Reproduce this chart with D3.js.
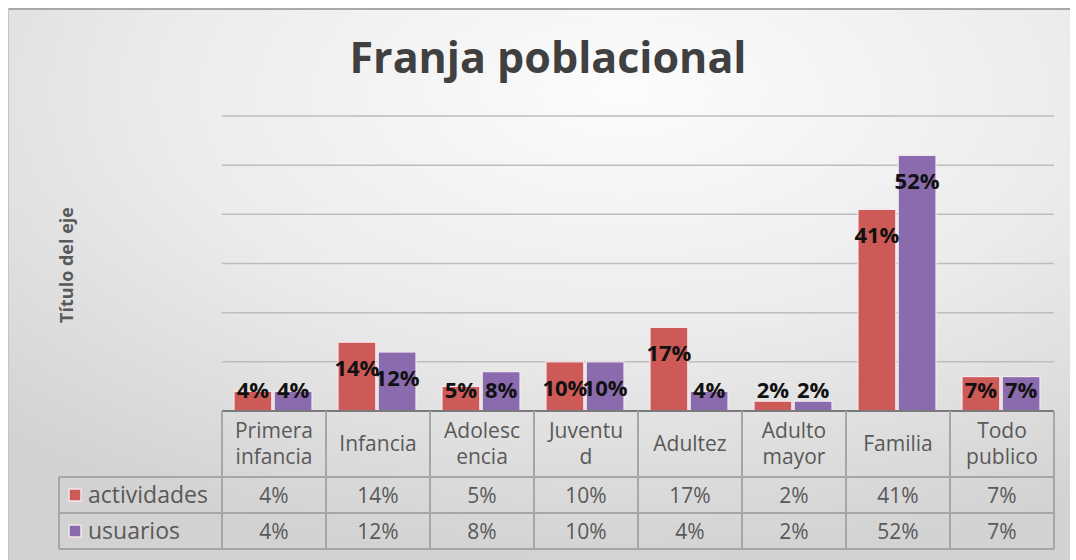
<!DOCTYPE html>
<html lang="es">
<head>
    <meta charset="UTF-8">
    <title>Franja poblacional</title>
    <style>
        body { margin: 0; background: #fff; }
        text { font-family: "Open Sans", "Noto Sans", sans-serif; }
    </style>
</head>
<body>

    <svg id="svg" width="1076" height="560"></svg>

    <script src="https://d3js.org/d3.v7.min.js"></script>
    <script>
        // data
        const categories = ['Primera infancia', 'Infancia', 'Adolescencia', 'Juventud', 'Adultez', 'Adulto mayor', 'Familia', 'Todo publico']
        const headerLines = [['Primera', 'infancia'], ['Infancia'], ['Adolesc', 'encia'], ['Juventu', 'd'], ['Adultez'], ['Adulto', 'mayor'], ['Familia'], ['Todo', 'publico']]
        const seriesNames = ['actividades', 'usuarios']
        const actividades = [4, 14, 5, 10, 17, 2, 41, 7]
        const usuarios = [4, 12, 8, 10, 4, 2, 52, 7]
        const yTicks = [10, 20, 30, 40, 50, 60]
        const colors = ['#CD5A57', '#8A6BAE']

        const values = [actividades, usuarios]
        const rows = categories.map((c, i) => ({ cat: c, vals: seriesNames.map((s, j) => ({ s, v: values[j][i] })) }))

        const svg = d3.select('#svg')

        // background panel
        const defs = svg.append('defs')
        const grad = defs.append('radialGradient')
            .attr('id', 'bg')
            .attr('cx', 0.58).attr('cy', 0.15).attr('r', 0.85)
        grad.append('stop').attr('offset', 0).attr('stop-color', '#fcfcfc')
        grad.append('stop').attr('offset', 0.5).attr('stop-color', '#ececec')
        grad.append('stop').attr('offset', 1).attr('stop-color', '#d2d2d2')

        svg.append('rect')
            .attr('x', 8).attr('y', 8)
            .attr('width', 1062).attr('height', 560)
            .attr('fill', 'url(#bg)')
        svg.append('line')
            .attr('x1', 8).attr('x2', 1070).attr('y1', 9).attr('y2', 9)
            .attr('stroke', '#a9a9a9').attr('stroke-width', 2)
        svg.append('line')
            .attr('x1', 8.5).attr('x2', 8.5).attr('y1', 8).attr('y2', 560)
            .attr('stroke', '#c4c4c4').attr('stroke-width', 1)

        // scales
        const left = 222, right = 1054, base = 411
        const x0 = d3.scaleBand()
            .domain(categories)
            .range([left, right])
        const x1 = d3.scaleBand()
            .domain(seriesNames)
            .range([12, 90])
            .paddingInner(0.06)
        const yScale = d3.scaleLinear()
            .domain([0, 60])
            .range([base, 116])
        const color = d3.scaleOrdinal()
            .domain(seriesNames)
            .range(colors)

        // title
        svg.append('text')
            .attr('x', 548).attr('y', 73)
            .attr('text-anchor', 'middle')
            .attr('font-size', 43)
            .attr('font-weight', 'bold')
            .attr('fill', '#404040')
            .text('Franja poblacional')

        // axis title
        svg.append('text')
            .attr('transform', 'translate(73,265) rotate(-90)')
            .attr('text-anchor', 'middle')
            .attr('font-size', 18)
            .attr('font-weight', 'bold')
            .attr('fill', '#595959')
            .text('Título del eje')

        // gridlines
        svg.append('g')
            .selectAll('line')
            .data(yTicks)
            .enter()
            .append('line')
            .attr('x1', left).attr('x2', right)
            .attr('y1', d => yScale(d)).attr('y2', d => yScale(d))
            .attr('stroke', '#bdbdbd')
            .attr('stroke-width', 1.5)

        // bars
        const groups = svg.append('g')
            .selectAll('g')
            .data(rows)
            .enter()
            .append('g')
            .attr('transform', d => `translate(${x0(d.cat)},0)`)

        groups.selectAll('rect')
            .data(d => d.vals)
            .enter()
            .append('rect')
            .attr('x', d => x1(d.s))
            .attr('y', d => yScale(d.v))
            .attr('width', x1.bandwidth())
            .attr('height', d => base - yScale(d.v))
            .attr('fill', d => color(d.s))
            .attr('stroke', '#f6e8ee')
            .attr('stroke-width', 1.2)

        groups.selectAll('text')
            .data(d => d.vals)
            .enter()
            .append('text')
            .attr('x', d => x1(d.s) + x1.bandwidth() / 2)
            .attr('y', d => Math.min(yScale(d.v) + 26, 390) + 8)
            .attr('text-anchor', 'middle')
            .attr('font-size', 22)
            .attr('font-weight', 'bold')
            .attr('fill', '#111')
            .text(d => d.v + '%')

        // data table
        const rowTop = [base, 477, 513, 549]
        const table = svg.append('g')
            .attr('stroke', '#a6a6a6')
            .attr('stroke-width', 2)
        table.append('line')
            .attr('x1', left).attr('x2', right).attr('y1', base).attr('y2', base)
            .attr('stroke', '#7a7a7a')
        rowTop.slice(1).forEach(y => {
            table.append('line')
                .attr('x1', 59).attr('x2', right).attr('y1', y).attr('y2', y)
        })
        categories.concat(['end']).forEach((c, i) => {
            const x = i < categories.length ? x0(c) : right
            table.append('line')
                .attr('x1', x).attr('x2', x).attr('y1', base).attr('y2', 549)
        })
        table.append('line')
            .attr('x1', 59).attr('x2', 59).attr('y1', 477).attr('y2', 549)

        // header labels
        const header = svg.append('g')
            .selectAll('text')
            .data(categories)
            .enter()
            .append('text')
            .attr('text-anchor', 'middle')
            .attr('font-size', 21)
            .attr('fill', '#595959')
        header.each(function(c, i) {
            const lines = headerLines[i]
            const cx = x0(c) + x0.bandwidth() / 2
            const cy = (base + 477) / 2
            lines.forEach((l, k) => {
                d3.select(this).append('tspan')
                    .attr('x', cx)
                    .attr('y', cy + (k - (lines.length - 1) / 2) * 26 + 7)
                    .text(l)
            })
        })

        // table values and legend
        seriesNames.forEach((s, j) => {
            const cy = (rowTop[j + 1] + rowTop[j + 2]) / 2
            svg.append('g')
                .selectAll('text')
                .data(rows)
                .enter()
                .append('text')
                .attr('x', d => x0(d.cat) + x0.bandwidth() / 2)
                .attr('y', cy + 8)
                .attr('text-anchor', 'middle')
                .attr('font-size', 21)
                .attr('fill', '#595959')
                .text(d => d.vals[j].v + '%')

            svg.append('rect')
                .attr('x', 69).attr('y', cy - 6)
                .attr('width', 12).attr('height', 12)
                .attr('fill', color(s))
                .attr('stroke', '#f3e6ee')
                .attr('stroke-width', 1.5)
            svg.append('text')
                .attr('x', 88).attr('y', cy + 8)
                .attr('font-size', 23)
                .attr('fill', '#595959')
                .text(s)
        })
    </script>
</body>
</html>
